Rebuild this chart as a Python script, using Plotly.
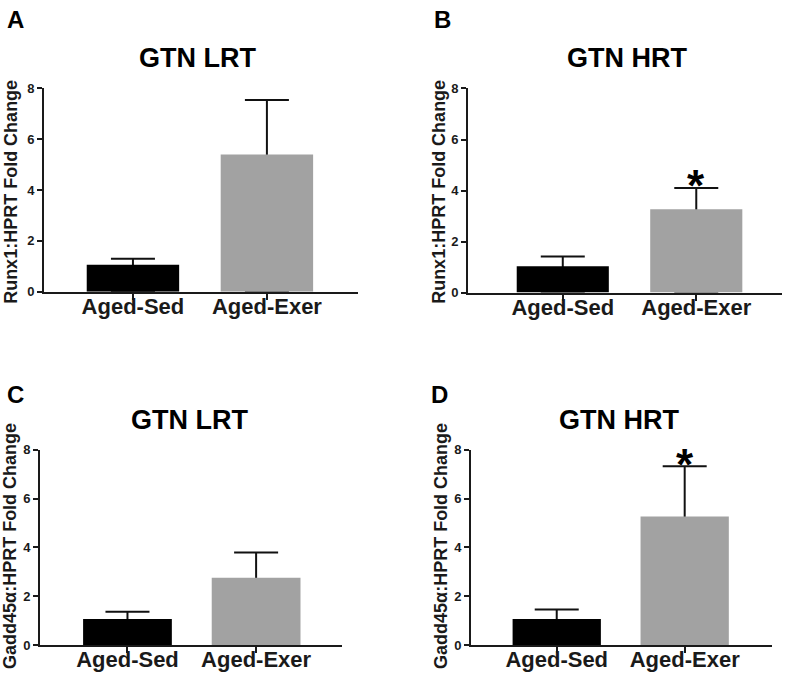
import plotly.graph_objects as go

W, H = 789, 686

categories = ["Aged-Sed", "Aged-Exer"]
tick_vals_y = [0, 2, 4, 6, 8]

# Panel values (mean) and upper error (SEM)
a_means = [1.06, 5.40]
a_err = [0.24, 2.15]
b_means = [1.03, 3.27]
b_err = [0.39, 0.83]
c_means = [1.07, 2.76]
c_err = [0.29, 1.03]
d_means = [1.07, 5.27]
d_err = [0.39, 2.06]

panel_titles = ["GTN LRT", "GTN HRT", "GTN LRT", "GTN HRT"]
panel_letters = ["A", "B", "C", "D"]
y_titles = ["Runx1:HPRT Fold Change", "Runx1:HPRT Fold Change",
            "Gadd45α:HPRT Fold Change", "Gadd45α:HPRT Fold Change"]
star_values = [None, 4.18, None, 7.40]

bar_colors = ["#000000", "#a2a2a2"]
FONT = "Liberation Sans, Arial, sans-serif"
INK = "#1a1a1a"

# layout geometry in pixels: (x_left, x_right, y_zero, y_eight)
geom = [
    (44, 358, 291, 83.3),
    (468, 781.7, 292, 83.3),
    (40, 342.3, 652.3, 452.7),
    (471, 771.7, 652.3, 452.7),
]
xranges = [[-0.664, 1.68], [-0.71, 1.64], [-0.68, 1.67], [-0.67, 1.68]]
title_pos = [(197, 52), (627, 52), (189, 422), (619, 422)]
letter_pos = [(16, 13), (442, 13), (15, 396), (440, 396)]
ytitle_pos = [(11, 189), (439, 189), (10, 551), (441, 551)]

means = [a_means, b_means, c_means, d_means]
errs = [a_err, b_err, c_err, d_err]

fig = go.Figure()
annotations = []
layout = dict(
    width=W, height=H,
    margin=dict(l=0, r=0, t=0, b=0),
    paper_bgcolor="white", plot_bgcolor="white",
    showlegend=False,
    barmode="overlay",
)

for i in range(4):
    n = "" if i == 0 else str(i + 1)
    xa, ya = "x" + n, "y" + n
    xl, xr, y0, y8 = geom[i]
    # error bars (upper SEM) drawn first; lower whisker hidden beneath the bars
    fig.add_trace(go.Bar(
        x=[0, 1], y=means[i], width=0.69,
        marker=dict(color="rgba(0,0,0,0)", line=dict(width=0)),
        error_y=dict(type="data", symmetric=False, array=errs[i],
                     arrayminus=means[i], color="#111111", thickness=2, width=22),
        xaxis=xa, yaxis=ya, hoverinfo="skip",
    ))
    fig.add_trace(go.Bar(
        x=[0, 1], y=means[i], width=0.69,
        marker=dict(color=bar_colors, line=dict(width=0)),
        xaxis=xa, yaxis=ya,
    ))
    layout["xaxis" + n] = dict(
        domain=[xl / W, xr / W], anchor=ya,
        range=xranges[i], tickmode="array", tickvals=[0, 1], ticktext=categories,
        showline=True, linecolor=INK, linewidth=2,
        ticks="outside", ticklen=6, tickwidth=2, tickcolor=INK,
        ticklabelstandoff=-12,
        showgrid=False, zeroline=False,
        tickfont=dict(family=FONT, size=22, color=INK, weight="bold"),
        fixedrange=True,
    )
    layout["yaxis" + n] = dict(
        domain=[1 - y0 / H, 1 - y8 / H], anchor=xa,
        range=[0, 8], tickvals=tick_vals_y,
        showline=True, linecolor=INK, linewidth=2,
        ticks="outside", ticklen=5, tickwidth=2, tickcolor=INK,
        showgrid=False, zeroline=False,
        tickfont=dict(family=FONT, size=13, color=INK, weight="bold"),
        fixedrange=True,
    )
    tx, ty = title_pos[i]
    annotations.append(dict(
        text=panel_titles[i], x=tx / W, y=1 - ty / H, xref="paper", yref="paper",
        showarrow=False, xanchor="center", yanchor="middle",
        font=dict(family=FONT, size=27, color="#000000", weight="bold"),
    ))
    lx, ly = letter_pos[i]
    annotations.append(dict(
        text=panel_letters[i], x=lx / W, y=1 - ly / H, xref="paper", yref="paper",
        showarrow=False, xanchor="center", yanchor="middle",
        font=dict(family=FONT, size=24, color="#000000", weight="bold"),
    ))
    yx, yy = ytitle_pos[i]
    annotations.append(dict(
        text=y_titles[i], x=yx / W, y=1 - yy / H, xref="paper", yref="paper",
        showarrow=False, xanchor="center", yanchor="middle", textangle=-90,
        font=dict(family=FONT, size=18, color=INK, weight="bold"),
    ))
    if star_values[i] is not None:
        annotations.append(dict(
            text="*", x=1, y=star_values[i], xref=xa, yref=ya,
            showarrow=False, xanchor="center", yanchor="middle",
            font=dict(family=FONT, size=44, color="#000000", weight="bold"),
        ))

layout["annotations"] = annotations
fig.update_layout(**layout)
fig.write_html("out.html", config={"displayModeBar": False},
               post_script="document.body.style.margin='0';")
